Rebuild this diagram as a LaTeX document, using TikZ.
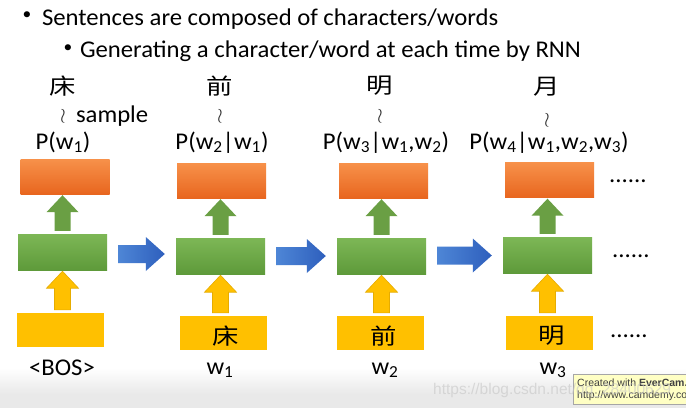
\documentclass[tikz,border=0pt]{standalone}
\usepackage{fontspec}
\setmainfont{Carlito}[FakeStretch=1.03]
\newfontfamily\cjk{Noto Sans CJK SC}[FakeStretch=1.2]
\newfontfamily\wmfont{Liberation Sans}
\usetikzlibrary{calc}
\definecolor{orT}{HTML}{F7914A}
\definecolor{orB}{HTML}{E8661F}
\definecolor{grT}{HTML}{7DB756}
\definecolor{grB}{HTML}{5E9A3A}
\definecolor{grA}{HTML}{6A9F44}
\definecolor{yel}{HTML}{FFC000}
\definecolor{yelE}{HTML}{E6AC00}
\definecolor{blL}{HTML}{4E86D6}
\definecolor{blR}{HTML}{2E5FBD}
\definecolor{band}{HTML}{E9E9E9}
\definecolor{badge}{HTML}{FFFFC4}
\newcommand\blockup[4]{% lower node, upper node, x node, style
  \coordinate (bu-b) at ($(#3 |- #1.north)+(0,-3)$);
  \coordinate (bu-t) at ($(#3 |- #2.south)+(0,1)$);
  \path[#4] ($(bu-b)+(-8,0)$) -- ($(bu-t)+(-8,17)$) -- ($(bu-t)+(-16,17)$) -- (bu-t)
    -- ($(bu-t)+(16,17)$) -- ($(bu-t)+(8,17)$) -- ($(bu-b)+(8,0)$) -- cycle;}
\newcommand\blockright[2]{% left node, right node
  \coordinate (br-m) at ($(#1.center)!0.5!(#2.center)$);
  \coordinate (br-l) at ($(#1.east |- br-m)+(11,0)$);
  \coordinate (br-r) at ($(#2.west |- br-m)+(-11,0)$);
  \shade[left color=blL, right color=blR] ($(br-l)+(0,-9)$) -- ($(br-r)+(-19,-9)$) -- ($(br-r)+(-19,-17)$) -- (br-r)
    -- ($(br-r)+(-19,17)$) -- ($(br-r)+(-19,9)$) -- ($(br-l)+(0,9)$) -- cycle;}
\tikzset{
  txt/.style={inner sep=0pt, outer sep=0pt, font=\fontsize{24}{28}\selectfont},
  bul/.style={inner sep=0pt, outer sep=0pt, font=\fontsize{17}{20}\selectfont},
  obox/.style={minimum width=89pt, minimum height=35pt, inner sep=0pt, top color=orT, bottom color=orB},
  gbox/.style={minimum width=89pt, minimum height=36pt, inner sep=0pt, top color=grT, bottom color=grB},
  ybox/.style={minimum width=87pt, minimum height=34pt, inner sep=0pt, fill=yel},
  garr/.style={fill=grA},
  yarr/.style={fill=yel, draw=yelE, line width=0.6pt},
  han/.style={inner sep=0pt, font=\cjk\fontsize{22}{26}\selectfont},
  wr/.style={inner sep=0pt, text=black!80, font=\fontsize{22}{24}\selectfont},
  dots/.style={inner sep=0pt, anchor=base west, font=\fontsize{24}{28}\selectfont}
}
\begin{document}
\begin{tikzpicture}[x=1pt,y=-1pt]
\useasboundingbox (0,0) rectangle (686,408);
\fill[white] (0,0) rectangle (686,408);
\shade[top color=white, bottom color=band] (0,368) rectangle (686,394);
\fill[band] (0,394) rectangle (686,408);

% bullets
\node[bul] (b1) at (27,16) {\textbullet};
\node[txt, anchor=base west] (t1) at (42,25) {Sentences are composed of characters/words};
\node[bul] (b2) at (68,49) {\textbullet};
\node[txt, anchor=base west] (t2) at (80,57) {Generating a character/word at each time by RNN};

% boxes
\node[obox] (o1) at (65,176.5) {};
\node[obox] (o2) at (221.5,180.5) {};
\node[obox] (o3) at (383.5,180.5) {};
\node[obox] (o4) at (549.5,180) {};
\node[gbox] (g1) at (62.5,252) {};
\node[gbox] (g2) at (220.5,256) {};
\node[gbox] (g3) at (381.5,256) {};
\node[gbox] (g4) at (547.5,255) {};
\node[ybox] (y1) at (60,330) {};
\node[ybox] (y2) at (223.5,333) {};
\node[ybox] (y3) at (380,333) {};
\node[ybox] (y4) at (549.5,333) {};
\node[han] (c2) at (226,336) {床};
\node[han] (c3) at (384,336) {前};
\node[han] (c4) at (552,336) {明};

% vertical arrows
\blockup{g1}{o1}{g1}{garr}
\blockup{g2}{o2}{g2}{garr}
\blockup{g3}{o3}{g3}{garr}
\blockup{g4}{o4}{g4}{garr}
\blockup{y1}{g1}{g1}{yarr}
\blockup{y2}{g2}{g2}{yarr}
\blockup{y3}{g3}{g3}{yarr}
\blockup{y4}{g4}{g4}{yarr}

% recurrent arrows
\blockright{g1}{g2}
\blockright{g2}{g3}
\blockright{g3}{g4}

% sampled characters
\node[han] (s1) at (63,86) {床};
\node[han] (s2) at (220,86) {前};
\node[han] (s3) at (380,86) {明};
\node[han] (s4) at (547,87) {月};
\node[wr] (z1) at (63,116) {$\wr$};
\node[wr] (z2) at (220,116) {$\wr$};
\node[wr] (z3) at (380,116) {$\wr$};
\node[wr] (z4) at (547,120) {$\wr$};
\node[txt, anchor=base west] (smp) at (76,122) {sample};

% probabilities
\node[txt, anchor=base] (p1) at (63,149) {P(w\textsubscript{1})};
\node[txt, anchor=base] (p2) at (222,149) {P(w\textsubscript{2}|w\textsubscript{1})};
\node[txt, anchor=base] (p3) at (386,149) {P(w\textsubscript{3}|w\textsubscript{1},w\textsubscript{2})};
\node[txt, anchor=base] (p4) at (549,149) {P(w\textsubscript{4}|w\textsubscript{1},w\textsubscript{2},w\textsubscript{3})};

% inputs
\node[txt, anchor=base] (i1) at (62,375) {<BOS>};
\node[txt, anchor=base] (i2) at (220,374) {w\textsubscript{1}};
\node[txt, anchor=base] (i3) at (385,374) {w\textsubscript{2}};
\node[txt, anchor=base] (i4) at (553,374) {w\textsubscript{3}};

% continuation dots
\node[dots] (d1) at (609,182) {......};
\node[dots] (d2) at (612,257) {......};
\node[dots] (d3) at (610,337) {......};

% badge and watermark
\node[draw=gray!70, fill=badge, line width=0.6pt, minimum width=130pt, minimum height=30pt, anchor=north west, inner sep=0pt] (bd) at (573,374) {};
\node[inner sep=0pt, anchor=base west, font=\wmfont\fontsize{10.5}{12}\selectfont, text=black!75] (bt1) at (577,386) {Created with \textbf{EverCam.}};
\node[inner sep=0pt, anchor=base west, font=\wmfont\fontsize{10.5}{12}\selectfont, text=black!75] (bt2) at (577,398) {http://www.camdemy.com};
\node[inner sep=0pt, anchor=base west, text=gray!45, opacity=0.6, font=\wmfont\fontsize{15.5}{18}\selectfont] (wm) at (433,394) {https://blog.csdn.net/qq\_28400629};
\end{tikzpicture}
\end{document}
